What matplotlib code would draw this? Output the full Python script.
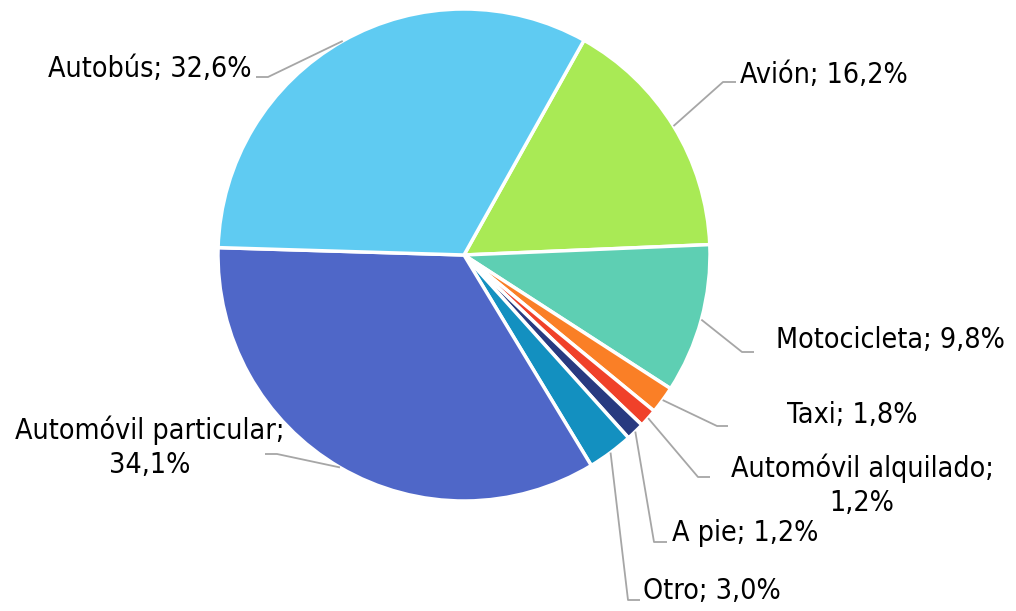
import matplotlib
matplotlib.use("Agg")
import matplotlib.pyplot as plt
import numpy as np

categories = ["Avión", "Motocicleta", "Taxi", "Automóvil alquilado", "A pie",
              "Otro", "Automóvil particular", "Autobús"]
values = [16.2, 9.8, 1.8, 1.2, 1.2, 3.0, 34.1, 32.6]
label_texts = ["Avión; 16,2%", "Motocicleta; 9,8%", "Taxi; 1,8%",
               "Automóvil alquilado;\n1,2%", "A pie; 1,2%", "Otro; 3,0%",
               "Automóvil particular;\n34,1%", "Autobús; 32,6%"]
colors = ["#A9EA55", "#5ECFB3", "#FA7F26", "#F0412A", "#283A80",
          "#1390C0", "#4F67C8", "#5FCBF2"]

W, H = 1016, 611
fig = plt.figure(figsize=(W / 100, H / 100), dpi=100)
ax = fig.add_axes([0, 0, 1, 1])

cx, cy, R = 464, H - 255, 246
start = 60.8
wedges, _ = ax.pie(values, colors=colors, startangle=start, counterclock=False,
                   center=(cx, cy), radius=R, frame=True,
                   wedgeprops=dict(edgecolor="white", linewidth=2.5))
ax.set_xlim(0, W)
ax.set_ylim(0, H)
ax.set_aspect("equal")
ax.axis("off")

# label layout: (text x, first baseline y (image px), ha, elbow x, elbow y(image), line end x)
layout = [
    (740, 83, "left", 723, 82, 736),
    (776, 348, "left", 742, 352, 754),
    (787, 423, "left", 717, 426, 728),
    (862, 477, "center", 698, 477, 710),
    (672, 541, "left", 654, 542, 667),
    (643, 599, "left", 628, 600, 640),
    (150, 439, "center", 277, 454, 265),
    (251, 77, "right", 268, 77, 256),
]
line_step = 34

font = dict(family="DejaVu Sans", fontstretch="condensed", size=20.5, color="black")
lc = "#A6A6A6"
for w, lab, (tx, ty, ha, ex, ey, lx) in zip(wedges, label_texts, layout):
    mid = np.deg2rad((w.theta1 + w.theta2) / 2)
    px = cx + R * np.cos(mid)
    py = cy + R * np.sin(mid)
    ax.plot([px, ex, lx], [py, H - ey, H - ey], color=lc, lw=1.3,
            solid_capstyle="butt", zorder=1)
    for i, line in enumerate(lab.split("\n")):
        ax.text(tx, H - (ty + i * line_step), line, ha=ha, va="baseline", **font)

fig.savefig("out.png", dpi=100)
